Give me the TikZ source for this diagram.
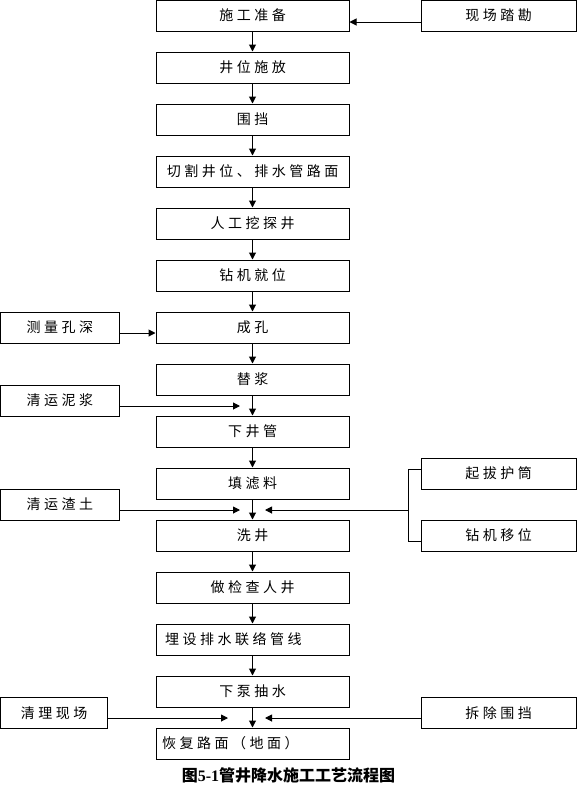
\documentclass[tikz,border=0pt]{standalone}
\usepackage{fontspec}
\setmainfont{Liberation Serif}
\newfontfamily\cjk[LetterSpace=25]{Noto Sans CJK SC}
\newfontfamily\cjkcap{Noto Sans CJK SC}
\usetikzlibrary{arrows.meta}
\begin{document}
\begin{tikzpicture}[x=1pt,y=-1pt,
  mainbox/.style={draw,line width=1pt,minimum width=193pt,minimum height=31pt,inner sep=0pt,font=\fontsize{14}{14}\selectfont\cjk},
  sidebox/.style={draw,line width=1pt,minimum height=31pt,inner sep=0pt,font=\fontsize{14}{14}\selectfont\cjk},
  arr/.style={line width=1pt,-{Triangle[length=7pt,width=7pt]}},
  ln/.style={line width=1pt}]
\useasboundingbox (0,0) rectangle (576,793);
% main column
\foreach \n/\t/\y in {a/施工准备/0,b/井位施放/52,c/围挡/104,d/切割井位、排水管路面/156,e/人工挖探井/208,f/钻机就位/260,g/成孔/312,h/替浆/364,i/下井管/416,j/填滤料/468,k/洗井/520,l/做检查人井/572}
  \node[mainbox] (\n) at (252.5,\y+15.5) {\t};
\node[mainbox,text width=175pt,align=left] (m) at (252.5,624+15.5) {埋设排水联络管线};
\node[mainbox] (n) at (252.5,676+15.5) {下泵抽水};
\node[mainbox,text width=181pt,align=left] (o) at (252.5,728+15.5) {恢复路面（地面）};
\foreach \p/\q in {a/b,b/c,c/d,d/e,e/f,f/g,g/h,h/i,i/j,j/k,k/l,l/m,m/n,n/o}
  \draw[arr] (\p.south) -- (\q.north);
% side boxes
\node[sidebox,minimum width=155pt] (s1) at (498.5,15.5) {现场踏勘};
\node[sidebox,minimum width=119pt] (s2) at (60,327.5) {测量孔深};
\node[sidebox,minimum width=119pt] (s3) at (60,400.5) {清运泥浆};
\node[sidebox,minimum width=119pt] (s4) at (60,504.5) {清运渣土};
\node[sidebox,minimum width=155pt] (s5) at (498.5,473.5) {起拔护筒};
\node[sidebox,minimum width=155pt] (s6) at (498.5,535.5) {钻机移位};
\node[sidebox,minimum width=107pt] (s7) at (54,713) {清理现场};
\node[sidebox,minimum width=155pt] (s8) at (498.5,713) {拆除围挡};
% side connectors
\draw[arr] (s1.west |- 0,22) -- (a.east |- 0,22);
\draw[arr] (s2.east |- 0,333) -- (g.west |- 0,333);
\coordinate (t3) at (240,406);
\draw[arr] (s3.east |- t3) -- (t3);
\coordinate (t4) at (240,510);
\draw[arr] (s4.east |- t4) -- (t4);
\coordinate (br1) at (408,469);
\coordinate (br2) at (408,541);
\coordinate (brm) at (408,510);
\coordinate (t5) at (265,510);
\draw[ln] (s5.west |- br1) -- (br1) -- (br2) -- (s6.west |- br2);
\draw[arr] (brm) -- (t5);
\coordinate (t7) at (228,718);
\draw[arr] (s7.east |- t7) -- (t7);
\coordinate (t8) at (265,718);
\draw[arr] (s8.west |- t8) -- (t8);
% caption
\node[inner sep=0pt] (cap) at (288.5,775) {\fontsize{16}{16}\selectfont\cjkcap\bfseries 图{\rmfamily\bfseries 5-1}管井降水施工工艺流程图};
\end{tikzpicture}
\end{document}
